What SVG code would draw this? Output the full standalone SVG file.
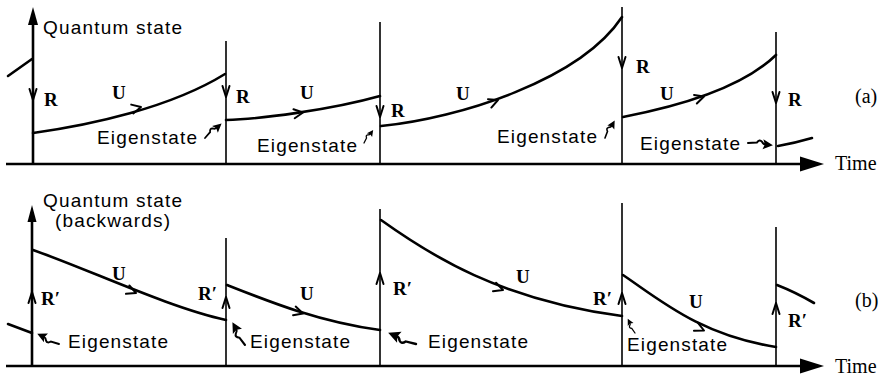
<svg xmlns="http://www.w3.org/2000/svg" xmlns:xlink="http://www.w3.org/1999/xlink" width="883" height="376" viewBox="0 0 883 376">
<style>
.ax{stroke:#000;stroke-width:2.6;fill:none}
.vl{stroke:#000;stroke-width:1.6;fill:none}
.cv{stroke:#000;stroke-width:2.6;fill:none;stroke-linecap:round}
.ch{stroke:#000;stroke-width:2;fill:none;stroke-linecap:round;stroke-linejoin:round}
.hd{fill:#000}
.sans{font-family:"Liberation Sans",Arial,sans-serif;font-size:19px;fill:#000}
.bold{font-family:"Liberation Serif","Times New Roman",serif;font-size:19px;font-weight:bold;fill:#000}
.ser{font-family:"Liberation Serif","Times New Roman",serif;font-size:20px;fill:#000}
</style>
<defs>
<path id="chev" d="M-9,-4.5 L0,0 L-9,4.5"/>
<path id="vchev" d="M-11,-3.5 L0,0 L-11,3.5"/>
<g id="sq">
<path d="M0,0 L7,-1 Q9,-4 11,-2 Q12,0 14,0" fill="none" stroke="#000" stroke-width="1.6" stroke-linecap="round"/>
<path d="M20,0 L12,-4 L13.5,0 L12,4 Z" fill="#000"/>
</g>
</defs>

<g id="panel-a">
<g id="axes-a">
<line class="ax" x1="6" y1="164" x2="803" y2="164"/>
<polygon class="hd" points="824,164 800,156.5 800,171.5"/>
<line class="ax" x1="33" y1="164" x2="33" y2="22" stroke-width="3"/>
<polygon class="hd" points="33,7 28,25 38,25"/>
<text class="sans" x="43" y="34" textLength="139" lengthAdjust="spacing">Quantum state</text>
<text class="ser" x="835" y="170">Time</text>
<text class="ser" x="855" y="103">(a)</text>
</g>
<g id="connectors-a">
<line class="vl" x1="226" y1="41" x2="226" y2="164"/>
<line class="vl" x1="380" y1="22" x2="380" y2="164"/>
<line class="vl" x1="622" y1="7" x2="622" y2="164"/>
<line class="vl" x1="776" y1="32" x2="776" y2="164"/>
<path class="cv" d="M8,76 L32,59"/>
<path class="cv" d="M33,133 C90,125 170,108 225,74"/>
<path class="cv" d="M226,120 C260,119 330,110 380,96"/>
<path class="cv" d="M381,126 C460,118 580,80 622,17"/>
<path class="cv" d="M623,117 C670,108 740,90 776,55"/>
<path class="cv" d="M778,146 Q795,143 812,138"/>
<use xlink:href="#chev" class="ch" transform="translate(141,107) rotate(-13)"/>
<use xlink:href="#chev" class="ch" transform="translate(303,112.5) rotate(-8)"/>
<use xlink:href="#chev" class="ch" transform="translate(498,100) rotate(-22)"/>
<use xlink:href="#chev" class="ch" transform="translate(704,96.5) rotate(-18)"/>
<use xlink:href="#vchev" class="ch" transform="translate(33,100) rotate(90)"/>
<use xlink:href="#vchev" class="ch" transform="translate(226,97) rotate(90)"/>
<use xlink:href="#vchev" class="ch" transform="translate(380,117) rotate(90)"/>
<use xlink:href="#vchev" class="ch" transform="translate(622,68) rotate(90)"/>
<use xlink:href="#vchev" class="ch" transform="translate(776,103) rotate(90)"/>
<use xlink:href="#sq" transform="translate(205,138) rotate(-41) scale(1.1)"/>
<use xlink:href="#sq" transform="translate(364,143) rotate(-55) scale(0.8)"/>
<use xlink:href="#sq" transform="translate(605,138) rotate(-61) scale(1)"/>
<use xlink:href="#sq" transform="translate(748,143) rotate(5) scale(1.25)"/>
</g>
<g id="labels-a">
<text class="bold" x="44" y="106">R</text>
<text class="bold" x="236" y="103">R</text>
<text class="bold" x="391" y="117">R</text>
<text class="bold" x="636" y="73">R</text>
<text class="bold" x="788" y="106">R</text>
<text class="bold" x="112" y="99">U</text>
<text class="bold" x="300" y="99">U</text>
<text class="bold" x="456" y="100">U</text>
<text class="bold" x="660" y="100">U</text>
<text class="sans" x="97" y="144" textLength="100" lengthAdjust="spacing">Eigenstate</text>
<text class="sans" x="257" y="152" textLength="100" lengthAdjust="spacing">Eigenstate</text>
<text class="sans" x="497" y="143" textLength="100" lengthAdjust="spacing">Eigenstate</text>
<text class="sans" x="640" y="150" textLength="100" lengthAdjust="spacing">Eigenstate</text>
</g>
</g>

<g id="panel-b">
<g id="axes-b">
<line class="ax" x1="6" y1="366" x2="803" y2="366"/>
<polygon class="hd" points="824,366 800,358.5 800,373.5"/>
<line class="ax" x1="32" y1="366" x2="32" y2="220" stroke-width="3"/>
<polygon class="hd" points="32,205 27.5,222 36.5,222"/>
<text class="sans" x="43" y="207" font-size="18.5" textLength="139" lengthAdjust="spacing">Quantum state</text>
<text class="sans" x="55" y="227" font-size="18.5" textLength="115" lengthAdjust="spacing">(backwards)</text>
<text class="ser" x="835" y="373">Time</text>
<text class="ser" x="855" y="307">(b)</text>
</g>
<g id="connectors-b">
<line class="vl" x1="226" y1="238" x2="226" y2="366"/>
<line class="vl" x1="380" y1="209" x2="380" y2="366"/>
<line class="vl" x1="622" y1="203" x2="622" y2="366"/>
<line class="vl" x1="776" y1="227" x2="776" y2="366"/>
<path class="cv" d="M8,324 L32,333"/>
<path class="cv" d="M33,250 C90,270 170,308 226,320"/>
<path class="cv" d="M227,285 C270,302 320,322 380,330"/>
<path class="cv" d="M381,220 C430,255 500,300 622,316"/>
<path class="cv" d="M623,275 C660,300 700,335 776,347"/>
<path class="cv" d="M777,285 Q795,292 814,303"/>
<use xlink:href="#chev" class="ch" transform="translate(136,293) rotate(22)"/>
<use xlink:href="#chev" class="ch" transform="translate(303,313.5) rotate(17)"/>
<use xlink:href="#chev" class="ch" transform="translate(503,290) rotate(20)"/>
<use xlink:href="#chev" class="ch" transform="translate(704,330.5) rotate(25)"/>
<use xlink:href="#vchev" class="ch" transform="translate(32,292) rotate(-90)"/>
<use xlink:href="#vchev" class="ch" transform="translate(226,297) rotate(-90)"/>
<use xlink:href="#vchev" class="ch" transform="translate(380,273) rotate(-90)"/>
<use xlink:href="#vchev" class="ch" transform="translate(622,293) rotate(-90)"/>
<use xlink:href="#vchev" class="ch" transform="translate(776,303) rotate(-90)"/>
<use xlink:href="#sq" transform="translate(59,344) rotate(-155) scale(1.2)"/>
<use xlink:href="#sq" transform="translate(245,345) rotate(-119) scale(1.3)"/>
<use xlink:href="#sq" transform="translate(416,344) rotate(-158) scale(1.5)"/>
<use xlink:href="#sq" transform="translate(635,333) rotate(-117) scale(0.8)"/>
</g>
<g id="labels-b">
<text class="bold" x="41" y="305">R′</text>
<text class="bold" x="198" y="300">R′</text>
<text class="bold" x="393" y="295">R′</text>
<text class="bold" x="593" y="305">R′</text>
<text class="bold" x="788" y="327">R′</text>
<text class="bold" x="112" y="280">U</text>
<text class="bold" x="300" y="300">U</text>
<text class="bold" x="516" y="283">U</text>
<text class="bold" x="689" y="308">U</text>
<text class="sans" x="68" y="348" textLength="100" lengthAdjust="spacing">Eigenstate</text>
<text class="sans" x="250" y="348" textLength="100" lengthAdjust="spacing">Eigenstate</text>
<text class="sans" x="428" y="348" textLength="100" lengthAdjust="spacing">Eigenstate</text>
<text class="sans" x="627" y="351" textLength="100" lengthAdjust="spacing">Eigenstate</text>
</g>
</g>
</svg>
